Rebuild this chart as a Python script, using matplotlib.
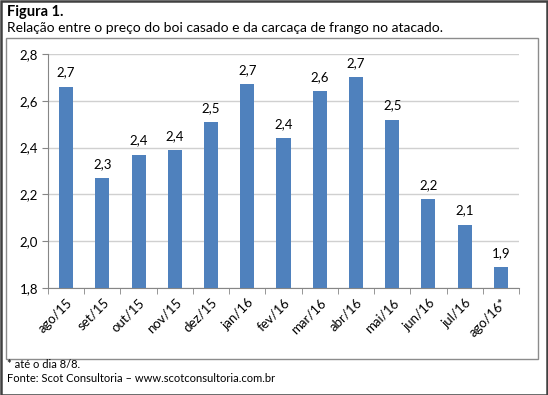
import matplotlib.pyplot as plt
from matplotlib.patches import Rectangle

months = ['ago/15', 'set/15', 'out/15', 'nov/15', 'dez/15', 'jan/16', 'fev/16',
          'mar/16', 'abr/16', 'mai/16', 'jun/16', 'jul/16', 'ago/16*']
ratio = [2.66, 2.27, 2.37, 2.39, 2.51, 2.67, 2.44, 2.64, 2.70, 2.52, 2.18, 2.07, 1.89]
yticks = [1.8, 2.0, 2.2, 2.4, 2.6, 2.8]

plt.rcParams['font.family'] = ['Lato', 'DejaVu Sans']

W, H = 548, 395
fig = plt.figure(figsize=(W / 100, H / 100), dpi=100)

# outer frame and inner chart box
fig.patches.append(Rectangle((0.5 / W, 0.5 / H), 1 - 1.5 / W, 1 - 1.5 / H, transform=fig.transFigure,
                             fill=False, edgecolor='#404040', lw=1.8))
fig.patches.append(Rectangle((6 / W, 1 - 359 / H), 532 / W, 321 / H, transform=fig.transFigure,
                             fill=False, edgecolor='#8c8c8c', lw=1))

fig.text(7 / W, 1 - 12 / H, 'Figura 1.', fontsize=10.5, fontweight='bold', va='center')
fig.text(7 / W, 1 - 28 / H, 'Relação entre o preço do boi casado e da carcaça de frango no atacado.',
         fontsize=10, va='center')
fig.text(7 / W, 1 - 364 / H, '* até o dia 8/8.', fontsize=8, va='center')
fig.text(7 / W, 1 - 379 / H, 'Fonte: Scot Consultoria – www.scotconsultoria.com.br', fontsize=8, va='center')

ax = fig.add_axes([48 / W, 1 - 288 / H, 471 / W, 234 / H])
x = range(len(months))
bars = ax.bar(x, ratio, width=0.39, color='#4F81BD', zorder=3)
for xi, v in zip(x, ratio):
    ax.text(xi, v + 0.035, f'{v:.1f}'.replace('.', ','), ha='center', va='bottom', fontsize=9.5)

ax.set_ylim(1.8, 2.8)
ax.set_xlim(-0.5, len(months) - 0.5)
ax.set_yticks(yticks)
ax.set_yticklabels([f'{t:.1f}'.replace('.', ',') for t in yticks], fontsize=9.5)
ax.yaxis.grid(True, color='#d0d0d0', lw=1, zorder=0)

ax.set_xticks(list(x))
ax.set_xticklabels(months, rotation=45, ha='right', rotation_mode='anchor', fontsize=9.5)
ax.tick_params(axis='x', length=0, pad=6)
ax.set_xticks([i - 0.5 for i in range(len(months) + 1)], minor=True)
ax.tick_params(axis='x', which='minor', length=4, color='#868686')
ax.tick_params(axis='y', length=4, color='#868686', pad=3)

for s in ['top', 'right']:
    ax.spines[s].set_visible(False)
for s in ['left', 'bottom']:
    ax.spines[s].set_color('#868686')

fig.savefig('out.png', dpi=100)
